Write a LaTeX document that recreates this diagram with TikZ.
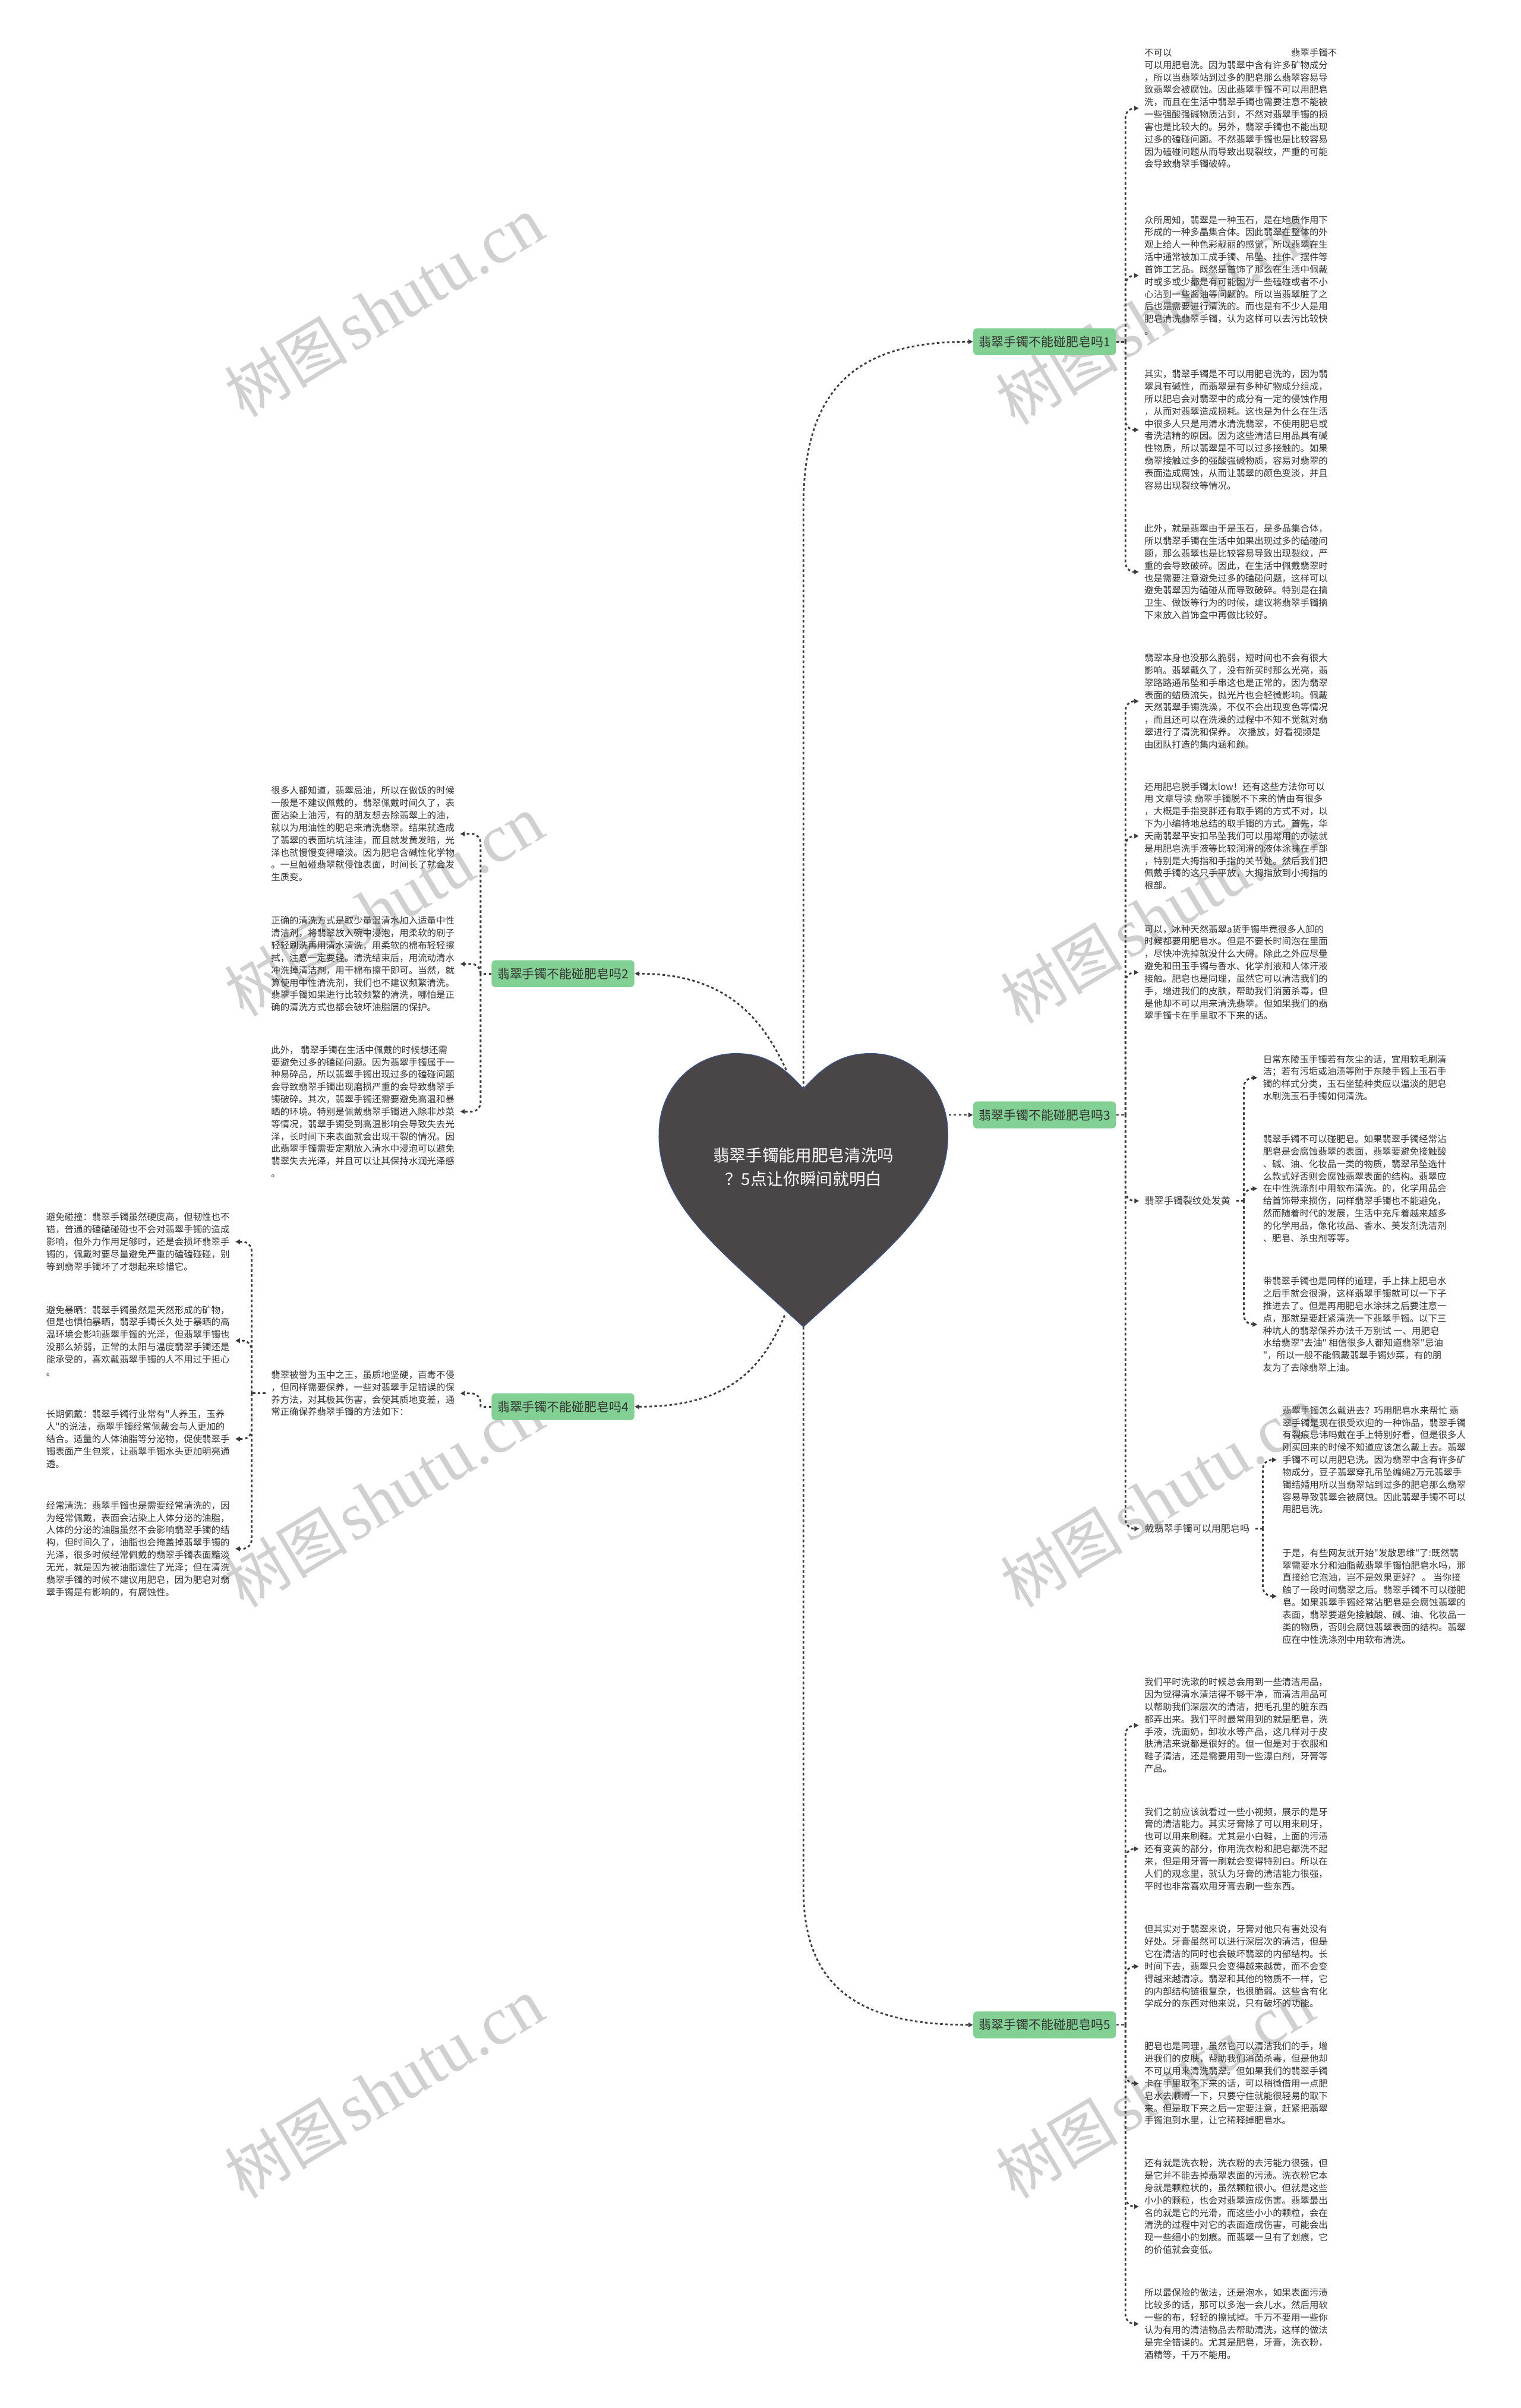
\documentclass[tikz,border=0pt]{standalone}
\usepackage{fontspec}
\newfontfamily\cjk{Noto Sans CJK SC}
\newfontfamily\wmserif{Liberation Serif}
\usetikzlibrary{arrows.meta}
\definecolor{jadegreen}{RGB}{130,208,148}
\definecolor{heartgray}{RGB}{74,69,70}
\definecolor{heartline}{RGB}{60,85,140}
\definecolor{inkgray}{RGB}{51,51,51}
\definecolor{linkgray}{RGB}{60,60,60}
\definecolor{markgray}{RGB}{208,208,208}
\tikzset{
  para/.style={font={\cjk\fontsize{5.97}{8.06}\selectfont}, align=left, inner xsep=3.5pt, inner ysep=1.5pt, text=inkgray, anchor=west},
  sublabel/.style={font={\cjk\fontsize{6.2}{8}\selectfont}, inner xsep=3.5pt, inner ysep=1.5pt, text=inkgray, anchor=west},
  topic/.style={fill=jadegreen, rounded corners=2.5pt, font={\cjk\fontsize{8.1}{10}\selectfont}, text=inkgray, inner xsep=3.7pt, inner ysep=0pt, minimum height=17.5pt},
  hubtext/.style={font={\cjk\fontsize{10.7}{15.2}\selectfont}, align=center, text=white},
  wmark/.style={text=markgray, rotate=31, inner sep=0pt},
  link/.style={draw=linkgray, line width=1.1pt, dash pattern=on 1.7pt off 1.6pt},
  linkarr/.style={link, -{Triangle[length=3pt,width=3pt]}},
  twig/.style={linkarr, rounded corners=6pt},
}
\begin{document}
\begin{tikzpicture}[x=1pt, y=-1pt]
\useasboundingbox (0,0) rectangle (990,1568);
\fill[white] (0,0) rectangle (990,1568);

% watermarks
\foreach \wx/\wy in {250/200, 752/205, 250/590, 755/595, 250/975, 755/975, 250/1360, 752/1360}
  \node[wmark] (wm-\wx-\wy) at (\wx,\wy) {{\cjk\fontsize{40}{44}\selectfont 树图} {\wmserif\fontsize{44}{48}\selectfont shutu.cn}};

% branch topics
\node[topic] (b1) at (680,222.5) {翡翠手镯不能碰肥皂吗1};
\node[topic] (b2) at (366.5,634) {翡翠手镯不能碰肥皂吗2};
\node[topic] (b3) at (680,726) {翡翠手镯不能碰肥皂吗3};
\node[topic] (b4) at (366.5,916) {翡翠手镯不能碰肥皂吗4};
\node[topic] (b5) at (680,1318.5) {翡翠手镯不能碰肥皂吗5};

% branch 1
\node[para] (p11) at (741.3,70.5) {不可以\hspace{13em}翡翠手镯不\\可以用肥皂洗。因为翡翠中含有许多矿物成分\\，所以当翡翠站到过多的肥皂那么翡翠容易导\\致翡翠会被腐蚀。因此翡翠手镯不可以用肥皂\\洗，而且在生活中翡翠手镯也需要注意不能被\\一些强酸强碱物质沾到，不然对翡翠手镯的损\\害也是比较大的。另外，翡翠手镯也不能出现\\过多的磕碰问题。不然翡翠手镯也是比较容易\\因为磕碰问题从而导致出现裂纹，严重的可能\\会导致翡翠手镯破碎。};
\node[para] (p12) at (741.3,179.4) {众所周知，翡翠是一种玉石，是在地质作用下\\形成的一种多晶集合体。因此翡翠在整体的外\\观上给人一种色彩靓丽的感觉，所以翡翠在生\\活中通常被加工成手镯、吊坠、挂件、摆件等\\首饰工艺品。既然是首饰了那么在生活中佩戴\\时或多或少都是有可能因为一些磕碰或者不小\\心沾到一些酱油等问题的。所以当翡翠脏了之\\后也是需要进行清洗的。而也是有不少人是用\\肥皂清洗翡翠手镯，认为这样可以去污比较快\\。};
\node[para] (p13) at (741.3,279.9) {其实，翡翠手镯是不可以用肥皂洗的，因为翡\\翠具有碱性，而翡翠是有多种矿物成分组成，\\所以肥皂会对翡翠中的成分有一定的侵蚀作用\\，从而对翡翠造成损耗。这也是为什么在生活\\中很多人只是用清水清洗翡翠，不使用肥皂或\\者洗洁精的原因。因为这些清洁日用品具有碱\\性物质，所以翡翠是不可以过多接触的。如果\\翡翠接触过多的强酸强碱物质，容易对翡翠的\\表面造成腐蚀，从而让翡翠的颜色变淡，并且\\容易出现裂纹等情况。};
\node[para] (p14) at (741.3,372.4) {此外，就是翡翠由于是玉石，是多晶集合体，\\所以翡翠手镯在生活中如果出现过多的磕碰问\\题，那么翡翠也是比较容易导致出现裂纹，严\\重的会导致破碎。因此，在生活中佩戴翡翠时\\也是需要注意避免过多的磕碰问题，这样可以\\避免翡翠因为磕碰从而导致破碎。特别是在搞\\卫生、做饭等行为的时候，建议将翡翠手镯摘\\下来放入首饰盒中再做比较好。};

% branch 3
\node[para] (p31) at (741.3,456.6) {翡翠本身也没那么脆弱，短时间也不会有很大\\影响。翡翠戴久了，没有新买时那么光亮，翡\\翠路路通吊坠和手串这也是正常的，因为翡翠\\表面的蜡质流失，抛光片也会轻微影响。佩戴\\天然翡翠手镯洗澡，不仅不会出现变色等情况\\，而且还可以在洗澡的过程中不知不觉就对翡\\翠进行了清洗和保养。 次播放，好看视频是\\由团队打造的集内涵和颜。};
\node[para] (p32) at (741.3,544.4) {还用肥皂脱手镯太low！还有这些方法你可以\\用 文章导读 翡翠手镯脱不下来的情由有很多\\，大概是手指变胖还有取手镯的方式不对，以\\下为小编特地总结的取手镯的方式。首先，华\\天南翡翠平安扣吊坠我们可以用常用的办法就\\是用肥皂洗手液等比较润滑的液体涂抹在手部\\，特别是大拇指和手指的关节处。然后我们把\\佩戴手镯的这只手平放，大拇指放到小拇指的\\根部。};
\node[para] (p33) at (741.3,633.2) {可以，冰种天然翡翠a货手镯毕竟很多人卸的\\时候都要用肥皂水。但是不要长时间泡在里面\\，尽快冲洗掉就没什么大碍。除此之外应尽量\\避免和田玉手镯与香水、化学剂液和人体汗液\\接触。肥皂也是同理，虽然它可以清洁我们的\\手，增进我们的皮肤，帮助我们消菌杀毒，但\\是他却不可以用来清洗翡翠。但如果我们的翡\\翠手镯卡在手里取不下来的话。};
\node[sublabel] (crack) at (741.5,782) {翡翠手镯裂纹处发黄};
\node[sublabel] (wear) at (741.5,995.4) {戴翡翠手镯可以用肥皂吗};
\node[para] (s1) at (818.5,701.8) {日常东陵玉手镯若有灰尘的话，宜用软毛刷清\\洁；若有污垢或油渍等附于东陵手镯上玉石手\\镯的样式分类，玉石坐垫种类应以温淡的肥皂\\水刷洗玉石手镯如何清洗。};
\node[para] (s2) at (818.5,774) {翡翠手镯不可以碰肥皂。如果翡翠手镯经常沾\\肥皂是会腐蚀翡翠的表面，翡翠要避免接触酸\\、碱、油、化妆品一类的物质，翡翠吊坠选什\\么款式好否则会腐蚀翡翠表面的结构。翡翠应\\在中性洗涤剂中用软布清洗。的，化学用品会\\给首饰带来损伤，同样翡翠手镯也不能避免，\\然而随着时代的发展，生活中充斥着越来越多\\的化学用品，像化妆品、香水、美发剂洗洁剂\\、肥皂、杀虫剂等等。};
\node[para] (s3) at (818.5,862.4) {带翡翠手镯也是同样的道理，手上抹上肥皂水\\之后手就会很滑，这样翡翠手镯就可以一下子\\推进去了。但是再用肥皂水涂抹之后要注意一\\点，那就是要赶紧清洗一下翡翠手镯。以下三\\种坑人的翡翠保养办法千万别试 一、用肥皂\\水给翡翠"去油" 相信很多人都知道翡翠"忌油\\"，所以一般不能佩戴翡翠手镯炒菜，有的朋\\友为了去除翡翠上油。};
\node[para] (d1) at (831.1,950.6) {翡翠手镯怎么戴进去？巧用肥皂水来帮忙 翡\\翠手镯是现在很受欢迎的一种饰品，翡翠手镯\\有裂痕忌讳吗戴在手上特别好看，但是很多人\\刚买回来的时候不知道应该怎么戴上去。翡翠\\手镯不可以用肥皂洗。因为翡翠中含有许多矿\\物成分，豆子翡翠穿孔吊坠编绳2万元翡翠手\\镯结婚用所以当翡翠站到过多的肥皂那么翡翠\\容易导致翡翠会被腐蚀。因此翡翠手镯不可以\\用肥皂洗。};
\node[para] (d2) at (831.1,1039.4) {于是，有些网友就开始"发散思维"了:既然翡\\翠需要水分和油脂戴翡翠手镯怕肥皂水吗，那\\直接给它泡油，岂不是效果更好？ 。 当你接\\触了一段时间翡翠之后。翡翠手镯不可以碰肥\\皂。如果翡翠手镯经常沾肥皂是会腐蚀翡翠的\\表面，翡翠要避免接触酸、碱、油、化妆品一\\类的物质，否则会腐蚀翡翠表面的结构。翡翠\\应在中性洗涤剂中用软布清洗。};

% branch 5
\node[para] (p51) at (741.3,1123.5) {我们平时洗漱的时候总会用到一些清洁用品，\\因为觉得清水清洁得不够干净，而清洁用品可\\以帮助我们深层次的清洁，把毛孔里的脏东西\\都弄出来。我们平时最常用到的就是肥皂，洗\\手液，洗面奶，卸妆水等产品，这几样对于皮\\肤清洁来说都是很好的。但一但是对于衣服和\\鞋子清洁，还是需要用到一些漂白剂，牙膏等\\产品。};
\node[para] (p52) at (741.3,1203.9) {我们之前应该就看过一些小视频，展示的是牙\\膏的清洁能力。其实牙膏除了可以用来刷牙，\\也可以用来刷鞋。尤其是小白鞋，上面的污渍\\还有变黄的部分，你用洗衣粉和肥皂都洗不起\\来，但是用牙膏一刷就会变得特别白。所以在\\人们的观念里，就认为牙膏的清洁能力很强，\\平时也非常喜欢用牙膏去刷一些东西。};
\node[para] (p53) at (741.3,1280.5) {但其实对于翡翠来说，牙膏对他只有害处没有\\好处。牙膏虽然可以进行深层次的清洁，但是\\它在清洁的同时也会破坏翡翠的内部结构。长\\时间下去，翡翠只会变得越来越黄，而不会变\\得越来越清凉。翡翠和其他的物质不一样，它\\的内部结构链很复杂，也很脆弱。这些含有化\\学成分的东西对他来说，只有破坏的功能。};
\node[para] (p54) at (741.3,1356.7) {肥皂也是同理，虽然它可以清洁我们的手，增\\进我们的皮肤，帮助我们消菌杀毒，但是他却\\不可以用来清洗翡翠。但如果我们的翡翠手镯\\卡在手里取不下来的话，可以稍微借用一点肥\\皂水去顺滑一下，只要守住就能很轻易的取下\\来。但是取下来之后一定要注意，赶紧把翡翠\\手镯泡到水里，让它稀释掉肥皂水。};
\node[para] (p55) at (741.3,1436.8) {还有就是洗衣粉，洗衣粉的去污能力很强，但\\是它并不能去掉翡翠表面的污渍。洗衣粉它本\\身就是颗粒状的，虽然颗粒很小。但就是这些\\小小的颗粒，也会对翡翠造成伤害。翡翠最出\\名的就是它的光滑，而这些小小的颗粒，会在\\清洗的过程中对它的表面造成伤害，可能会出\\现一些细小的划痕。而翡翠一旦有了划痕，它\\的价值就会变低。};
\node[para] (p56) at (741.3,1513.2) {所以最保险的做法，还是泡水，如果表面污渍\\比较多的话，那可以多泡一会儿水，然后用软\\一些的布，轻轻的擦拭掉。千万不要用一些你\\认为有用的清洁物品去帮助清洗，这样的做法\\是完全错误的。尤其是肥皂，牙膏，洗衣粉，\\酒精等，千万不能用。};

% branch 2
\node[para] (l21) at (172.8,543) {很多人都知道，翡翠忌油，所以在做饭的时候\\一般是不建议佩戴的，翡翠佩戴时间久了，表\\面沾染上油污，有的朋友想去除翡翠上的油，\\就以为用油性的肥皂来清洗翡翠。结果就造成\\了翡翠的表面坑坑洼洼，而且就发黄发暗，光\\泽也就慢慢变得暗淡。因为肥皂含碱性化学物\\。一旦触碰翡翠就侵蚀表面，时间长了就会发\\生质变。};
\node[para] (l22) at (172.8,627.7) {正确的清洗方式是取少量温清水加入适量中性\\清洁剂，将翡翠放入碗中浸泡，用柔软的刷子\\轻轻刷洗再用清水清洗，用柔软的棉布轻轻擦\\拭，注意一定要轻。清洗结束后，用流动清水\\冲洗掉清洁剂，用干棉布擦干即可。当然，就\\算使用中性清洗剂，我们也不建议频繁清洗。\\翡翠手镯如果进行比较频繁的清洗，哪怕是正\\确的清洗方式也都会破坏油脂层的保护。};
\node[para] (l23) at (172.8,723.8) {此外， 翡翠手镯在生活中佩戴的时候想还需\\要避免过多的磕碰问题。因为翡翠手镯属于一\\种易碎品，所以翡翠手镯出现过多的磕碰问题\\会导致翡翠手镯出现磨损严重的会导致翡翠手\\镯破碎。其次，翡翠手镯还需要避免高温和暴\\晒的环境。特别是佩戴翡翠手镯进入除非炒菜\\等情况，翡翠手镯受到高温影响会导致失去光\\泽，长时间下来表面就会出现干裂的情况。因\\此翡翠手镯需要定期放入清水中浸泡可以避免\\翡翠失去光泽，并且可以让其保持水润光泽感\\。};

% branch 4
\node[para] (l41) at (172.8,907.3) {翡翠被誉为玉中之王，虽质地坚硬，百毒不侵\\，但同样需要保养，一些对翡翠手足错误的保\\养方法，对其极其伤害，会使其质地变差，通\\常正确保养翡翠手镯的方法如下：};
\node[para] (f1) at (26.4,808.6) {避免碰撞：翡翠手镯虽然硬度高，但韧性也不\\错，普通的磕磕碰碰也不会对翡翠手镯的造成\\影响，但外力作用足够时，还是会损坏翡翠手\\镯的，佩戴时要尽量避免严重的磕磕碰碰，别\\等到翡翠手镯坏了才想起来珍惜它。};
\node[para] (f2) at (26.4,873) {避免暴晒：翡翠手镯虽然是天然形成的矿物，\\但是也惧怕暴晒，翡翠手镯长久处于暴晒的高\\温环境会影响翡翠手镯的光泽，但翡翠手镯也\\没那么娇弱，正常的太阳与温度翡翠手镯还是\\能承受的，喜欢戴翡翠手镯的人不用过于担心\\。};
\node[para] (f3) at (26.4,937) {长期佩戴：翡翠手镯行业常有"人养玉，玉养\\人"的说法，翡翠手镯经常佩戴会与人更加的\\结合。适量的人体油脂等分泌物，促使翡翠手\\镯表面产生包浆，让翡翠手镯水头更加明亮通\\透。};
\node[para] (f4) at (26.4,1008.5) {经常清洗：翡翠手镯也是需要经常清洗的，因\\为经常佩戴，表面会沾染上人体分泌的油脂，\\人体的分泌的油脂虽然不会影响翡翠手镯的结\\构，但时间久了，油脂也会掩盖掉翡翠手镯的\\光泽，很多时候经常佩戴的翡翠手镯表面黯淡\\无光，就是因为被油脂遮住了光泽；但在清洗\\翡翠手镯的时候不建议用肥皂，因为肥皂对翡\\翠手镯是有影响的，有腐蚀性。};

% twigs
\foreach \c in {p11,p12,p13,p14} \draw[twig] (b1.east) ++(6,0) |- (\c.west);
\foreach \c in {p31,p32,p33,crack,wear} \draw[twig] (b3.east) ++(6,0) |- (\c.west);
\foreach \c in {s1,s2,s3} \draw[twig] (crack.east) ++(5,0) |- (\c.west);
\foreach \c in {d1,d2} \draw[twig] (wear.east) ++(5,0) |- (\c.west);
\foreach \c in {p51,p52,p53,p54,p55,p56} \draw[twig] (b5.east) ++(6,0) |- (\c.west);
\foreach \c in {l21,l22,l23} \draw[twig] (b2.west) ++(-7,0) |- (\c.east);
\draw[twig] (b4.west) ++(-7,0) |- (l41.east);
\foreach \c in {f1,f2,f3,f4} \draw[twig] (l41.west) ++(-9,0) |- (\c.east);
\foreach \n in {b1,b3,b5} \draw[link] (\n.east) -- ++(6,0);
\foreach \n in {crack,wear} \draw[link] (\n.east) -- ++(5,0);
\draw[link] (b2.west) -- ++(-7,0);
\draw[link] (b4.west) -- ++(-7,0);
\draw[link] (l41.west) -- ++(-9,0);

% heart
\coordinate (hdip) at (523,709);
\coordinate (htip) at (523,864);
\coordinate (hleft) at (511.8,696.7);
\coordinate (hlow) at (510.8,856.5);
\coordinate (hright) at (617.5,726);
\draw[linkarr] (hdip) -- (523,330) .. controls (523,250) and (560,222.5) .. (b1.west);
\draw[linkarr] (hleft) .. controls (495,660) and (470,634) .. (b2.east);
\draw[linkarr] (hright) -- (b3.west);
\draw[linkarr] (hlow) .. controls (495,895) and (470,916) .. (b4.east);
\draw[linkarr] (htip) -- (523,1230) .. controls (523,1295) and (560,1318.5) .. (b5.west);
\filldraw[fill=heartgray, draw=heartline, line width=0.5pt]
  (523,709) .. controls (508,692) and (496,686) .. (479,686)
  .. controls (452,686) and (429,708) .. (429,738)
  .. controls (428,785) and (470,815) .. (523,864)
  .. controls (576,815) and (618,785) .. (617,738)
  .. controls (617,708) and (594,686) .. (567,686)
  .. controls (550,686) and (538,692) .. (523,709) -- cycle;
\node[hubtext] (hub) at (523,760) {翡翠手镯能用肥皂清洗吗\\？5点让你瞬间就明白};
\end{tikzpicture}
\end{document}
